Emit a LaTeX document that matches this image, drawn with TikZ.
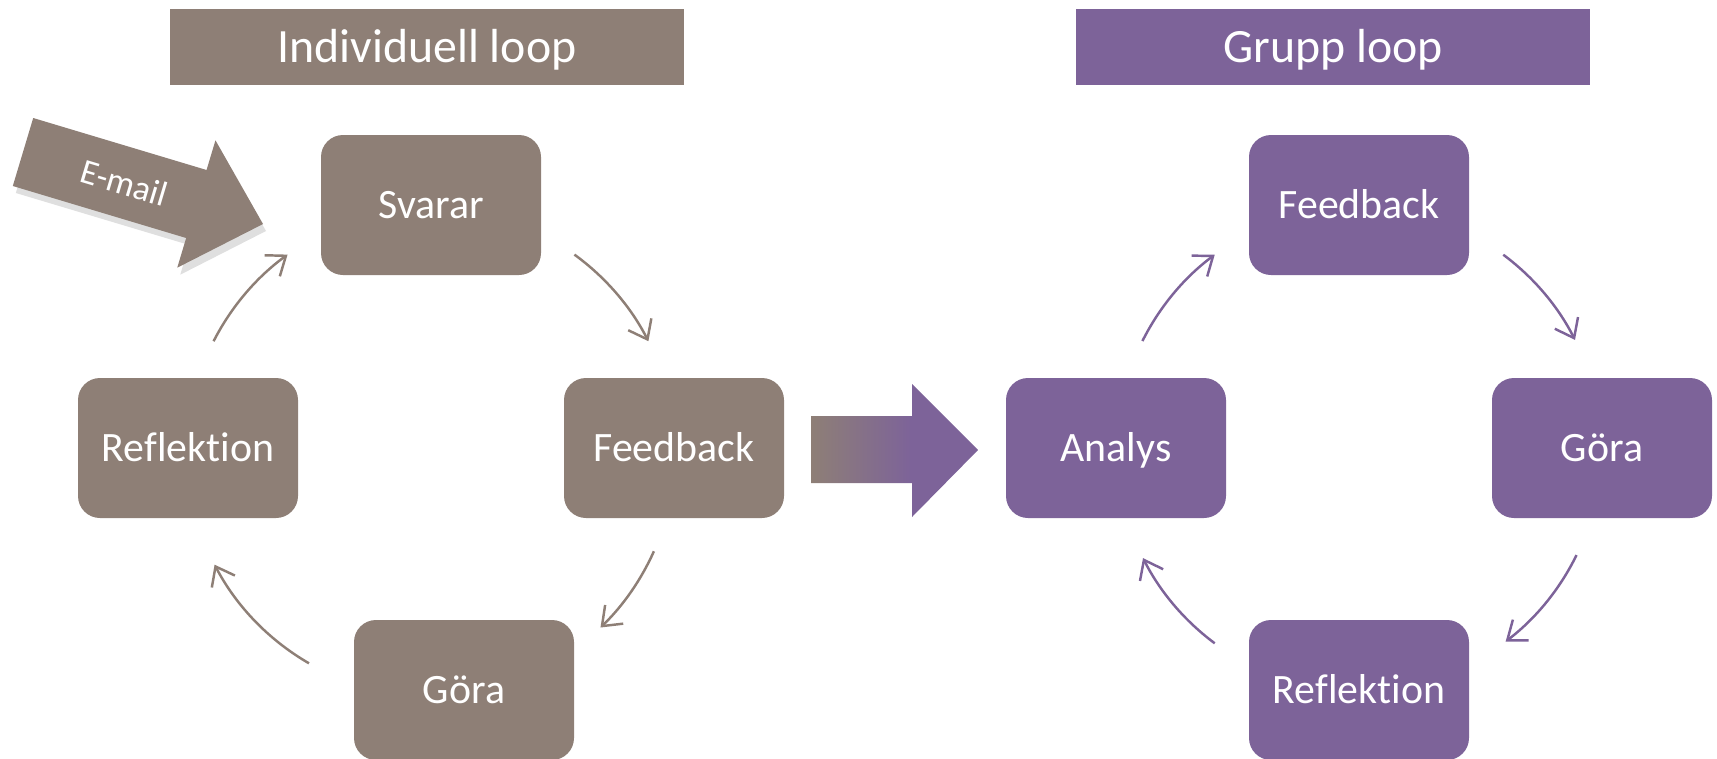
\documentclass[tikz,border=0pt]{standalone}
\usepackage{fontspec}
\setmainfont{Carlito}[Ligatures=NoCommon]
\usetikzlibrary{arrows.meta,shadows}
\definecolor{taupe}{HTML}{8E7F76}
\definecolor{lila}{HTML}{7D6399}
\pgfdeclarehorizontalshading{taupelila}{100bp}{color(0bp)=(taupe); color(25bp)=(taupe); color(55bp)=(lila); color(100bp)=(lila)}
\begin{document}
\begin{tikzpicture}[bx/.style={fill=#1,rounded corners=0.22cm,minimum width=2.2cm,minimum
					height=1.4cm,inner sep=0pt,text=white,text height=0.77em,text depth=0pt,font=\fontsize{11.9}{14}\selectfont},hd/.style={fill=#1,minimum
					width=5.14cm,minimum height=0.76cm,inner sep=0pt,text=white,text height=0.87em,text depth=0pt,font=\fontsize{13.6}{16}\selectfont},
				ar/.style={draw=#1,line width=0.7pt,-{Straight Barb[length=1.7mm,width=2.6mm]}}]
		\useasboundingbox (0,0) rectangle (17.17,-7.59);
		% headings
		\node[hd=taupe] (indiv) at (4.27,-0.47) {Individuell loop};
		\node[hd=lila] (grupp) at (13.33,-0.47) {Grupp loop};
		% individual loop
		\node[bx=taupe] (svarar) at (4.31,-2.05) {Svarar};
		\node[bx=taupe] (feedl) at (6.74,-4.48) {Feedback};
		\node[bx=taupe] (goral) at (4.64,-6.90) {Göra};
		\node[bx=taupe] (refll) at (1.88,-4.48) {Reflektion};
		\coordinate (cl) at (4.31,-4.52);
		\foreach \a/\b in {153/126,54/27,-24/-46,-120/-152.5}
			\draw[ar=taupe] ([shift={(\a:2.44)}]cl) arc[start angle=\a,end angle=\b,radius=2.44];
		% group loop
		\node[bx=lila] (analys) at (11.16,-4.48) {Analys};
		\node[bx=lila] (feedr) at (13.59,-2.05) {Feedback};
		\node[bx=lila] (gorar) at (16.02,-4.48) {Göra};
		\node[bx=lila] (leflr) at (13.59,-6.90) {Reflektion};
		\coordinate (cr) at (13.59,-4.49);
		\foreach \a/\b in {153.5/126.6,53.4/26.8,-26/-52.7,-126.6/-153.2}
			\draw[ar=lila] ([shift={(\a:2.42)}]cr) arc[start angle=\a,end angle=\b,radius=2.42];
		% big arrow between the loops
		\shade[shading=taupelila] (8.11,-4.16) -- (9.12,-4.16) -- (9.12,-3.84) -- (9.78,-4.50)
			-- (9.12,-5.17) -- (9.12,-4.83) -- (8.11,-4.83) -- cycle;
		% e-mail arrow
		\begin{scope}[shift={(0.23,-1.52)},rotate=-16.7]
			\fill[taupe,drop shadow={opacity=0.25,shadow xshift=0.03cm,shadow yshift=-0.07cm}]
				(0,0.355) -- (1.81,0.355) -- (1.81,0.665) -- (2.506,0) -- (1.81,-0.665)
				-- (1.81,-0.355) -- (0,-0.355) -- cycle;
			\node[rotate=-16.7,text=white,font=\fontsize{10}{12}\selectfont] (email) at (1.06,0) {E-mail};
		\end{scope}
	\end{tikzpicture}
\end{document}
